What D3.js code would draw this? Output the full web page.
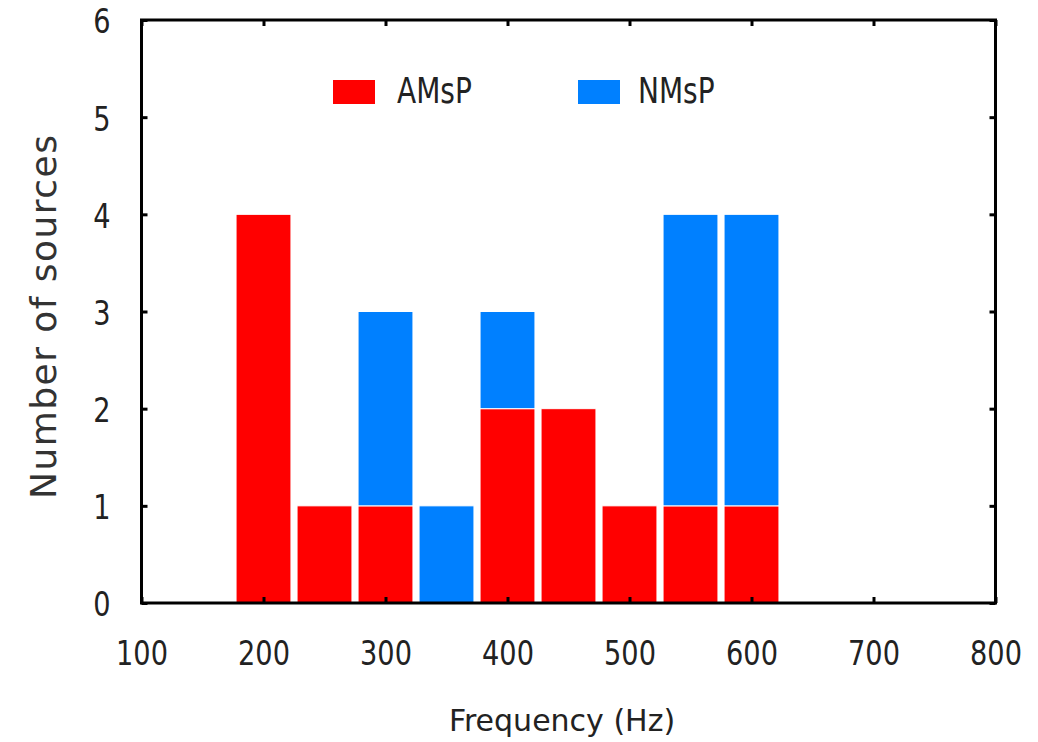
<!DOCTYPE html>
<html>
<head>
<meta charset="utf-8">
<script src="https://cdn.jsdelivr.net/npm/d3@7"></script>
<style>
  html, body { margin: 0; padding: 0; background: #fff; }
  svg { display: block; font-family: "DejaVu Sans", sans-serif; }
</style>
</head>
<body>
<svg id="chart" width="1038" height="742"></svg>
<script>
// ---- data ----
const binCenters = [200, 250, 300, 350, 400, 450, 500, 550, 600];
const amsp = [4, 1, 1, 0, 2, 2, 1, 1, 1];
const nmsp = [0, 0, 2, 1, 1, 0, 0, 3, 3];
const seriesNames = ["AMsP", "NMsP"];
const seriesColors = ["#ff0000", "#0080ff"];
const xTicks = [100, 200, 300, 400, 500, 600, 700, 800];
const yTicks = [0, 1, 2, 3, 4, 5, 6];
const boxWidth = 45;

const svg = d3.select("#chart");
const x = d3.scaleLinear().domain([100, 800]).range([141.5, 995.5]);
const y = d3.scaleLinear().domain([0, 6]).range([603, 20]);

// stacked data
const rows = binCenters.map((c, i) => ({ c, AMsP: amsp[i], NMsP: nmsp[i] }));
const stack = d3.stack().keys(seriesNames)(rows);

const gBars = svg.append("g");
stack.forEach((layer, k) => {
  gBars.selectAll(null)
    .data(layer.filter(d => d[1] - d[0] > 0))
    .join("rect")
    .attr("x", d => x(d.data.c - boxWidth / 2))
    .attr("width", d => x(d.data.c + boxWidth / 2) - x(d.data.c - boxWidth / 2))
    .attr("y", d => y(d[1]))
    .attr("height", d => y(d[0]) - y(d[1]))
    .attr("fill", seriesColors[k])
    .attr("stroke", "#fff")
    .attr("stroke-width", 1);
});

// axes (ticks inward, mirrored)
const tickLen = 6;
const fmt = d3.format("d");
const axBottom = svg.append("g").attr("transform", `translate(0,${y(0)})`)
  .call(d3.axisBottom(x).tickValues(xTicks).tickFormat(fmt).tickSizeInner(-tickLen).tickSizeOuter(0).tickPadding(0));
const axTop = svg.append("g").attr("transform", `translate(0,${y(6)})`)
  .call(d3.axisTop(x).tickValues(xTicks).tickSizeInner(-tickLen).tickSizeOuter(0).tickFormat(""));
const axLeft = svg.append("g").attr("transform", `translate(${x(100)},0)`)
  .call(d3.axisLeft(y).tickValues(yTicks).tickFormat(fmt).tickSizeInner(-tickLen).tickSizeOuter(0).tickPadding(0));
const axRight = svg.append("g").attr("transform", `translate(${x(800)},0)`)
  .call(d3.axisRight(y).tickValues(yTicks).tickSizeInner(-tickLen).tickSizeOuter(0).tickFormat(""));

[axBottom, axTop, axLeft, axRight].forEach(g => {
  g.select(".domain").remove();
  g.selectAll(".tick line").attr("stroke", "#000").attr("stroke-width", 3);
});

axBottom.selectAll(".tick text")
  .attr("y", 62).attr("dy", 0)
  .attr("font-size", 34)
  .attr("font-family", "DejaVu Sans")
  .attr("fill", "#222")
  .attr("transform", "scale(0.8,1)");

axLeft.selectAll(".tick text")
  .attr("x", 0).attr("dy", "0.38em")
  .attr("text-anchor", "end")
  .attr("font-size", 34)
  .attr("font-family", "DejaVu Sans")
  .attr("fill", "#222")
  .attr("transform", "translate(-31,0) scale(0.8,1)");

// frame
svg.append("rect")
  .attr("x", x(100)).attr("y", y(6))
  .attr("width", x(800) - x(100)).attr("height", y(0) - y(6))
  .attr("fill", "none").attr("stroke", "#000").attr("stroke-width", 3);

// axis titles
svg.append("text")
  .attr("x", 562).attr("y", 731)
  .attr("text-anchor", "middle")
  .attr("font-size", 30)
  .attr("fill", "#222")
  .text("Frequency (Hz)");

svg.append("text")
  .attr("transform", "translate(56,317) rotate(-90)")
  .attr("text-anchor", "middle")
  .attr("font-size", 36)
  .attr("fill", "#333")
  .attr("textLength", 364)
  .text("Number of sources");

// legend
const legendPos = [{ bx: 333, tx: 397 }, { bx: 578, tx: 638 }];
const legend = svg.append("g");
seriesNames.forEach((name, i) => {
  legend.append("rect")
    .attr("x", legendPos[i].bx).attr("y", 80)
    .attr("width", 42).attr("height", 24)
    .attr("fill", seriesColors[i]);
  legend.append("text")
    .attr("transform", `translate(${legendPos[i].tx},103) scale(0.8,1)`)
    .attr("font-size", 35)
    .attr("fill", "#222")
    .text(name);
});
</script>
</body>
</html>
